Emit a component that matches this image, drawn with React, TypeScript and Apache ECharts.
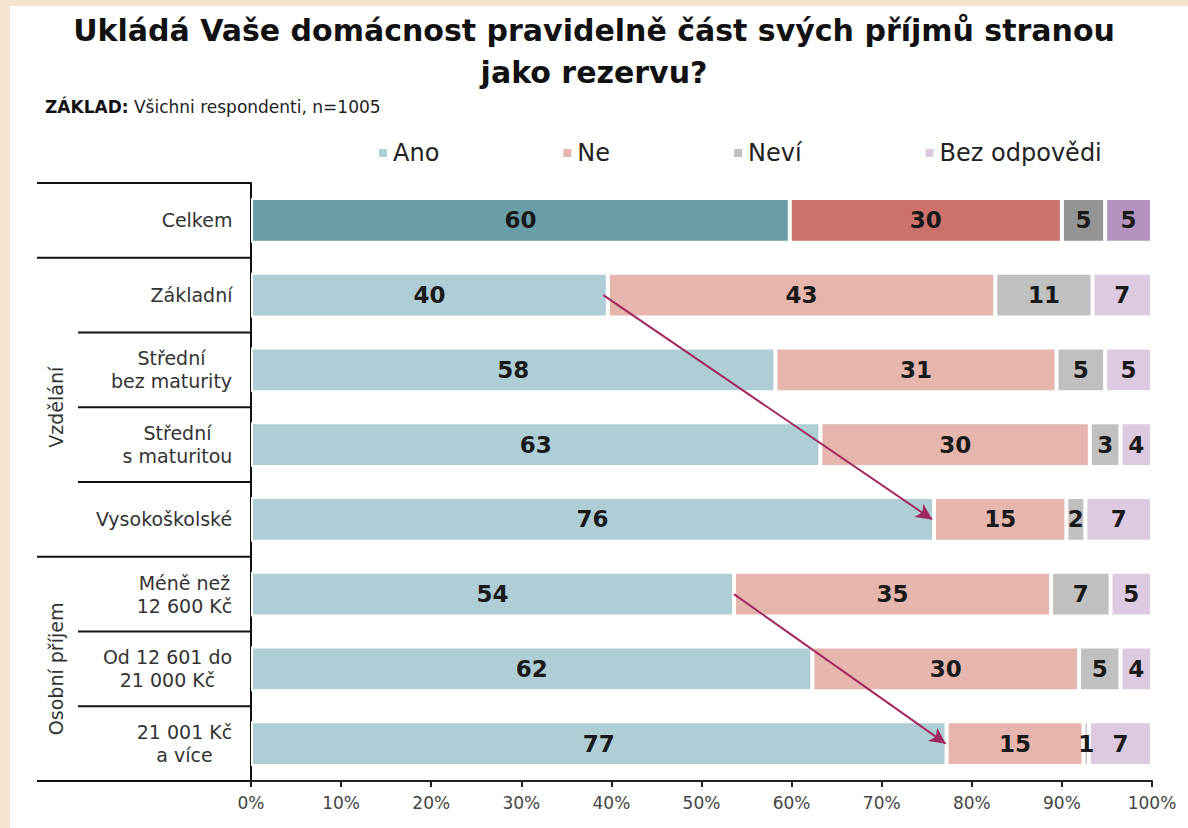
import React, { useEffect, useRef } from 'react';
import * as echarts from 'echarts';

const categories = [
  'Celkem',
  'Základní',
  'Střední\nbez maturity',
  'Střední\ns maturitou',
  'Vysokoškolské',
  'Méně než\n12 600 Kč',
  'Od 12 601 do\n21 000 Kč',
  '21 001 Kč\na více',
];
const seriesNames = ['Ano', 'Ne', 'Neví', 'Bez odpovědi'];
const ano = [59.8, 39.6, 58.2, 63.2, 75.8, 53.6, 62.3, 77.2];
const ne = [30.2, 43.0, 31.2, 29.9, 14.7, 35.2, 29.6, 15.2];
const nevi = [4.8, 10.8, 5.4, 3.4, 2.1, 6.6, 4.6, 0.6];
const bez = [5.2, 6.6, 5.2, 3.5, 7.4, 4.6, 3.5, 7.0];
const allValues = [ano, ne, nevi, bez];

const lightColors = ['#aecdd4', '#e6b5ae', '#c0c0c0', '#dccbe0'];
const darkColors = ['#6a9ea9', '#cc716c', '#949494', '#b592bd'];

const groups = [
  { name: 'Vzdělání', from: 1, to: 4 },
  { name: 'Osobní příjem', from: 5, to: 7 },
];
// arrows: [startValue, startCategoryIndex, endValue, endCategoryIndex]
const arrows = [
  [39.1, 1, 75.6, 4],
  [53.6, 5, 77.1, 7],
];

const titleText = 'Ukládá Vaše domácnost pravidelně část svých příjmů stranou\njako rezervu?';
const baseBold = 'ZÁKLAD:';
const baseText = ' Všichni respondenti, n=1005';

const FONT = '"DejaVu Sans", Verdana, sans-serif';
const LABEL_SIZE = 19;

export default function App() {
  const ref = useRef<HTMLDivElement>(null);

  useEffect(() => {
    if (!ref.current) return;
    const chart = echarts.init(ref.current, null, { renderer: 'svg' });

    // measure label lines to center multi-line labels
    const canvas = document.createElement('canvas');
    const ctx = canvas.getContext('2d')!;
    ctx.font = `${LABEL_SIZE}px ${FONT}`;
    const rich: any = {};
    categories.forEach((c, i) => {
      const w = Math.max(...c.split('\n').map((l) => ctx.measureText(l).width));
      rich['c' + i] = {
        width: Math.ceil(w) + 1,
        align: 'center',
        fontSize: LABEL_SIZE,
        fontFamily: FONT,
        color: '#333',
        lineHeight: 23,
      };
    });

    const series: any[] = allValues.map((vals, s) => ({
      name: seriesNames[s],
      type: 'bar',
      stack: 'total',
      barCategoryGap: '40%',
      itemStyle: { color: lightColors[s], borderColor: '#fff', borderWidth: 2 },
      emphasis: { disabled: true },
      label: {
        show: true,
        position: 'inside',
        formatter: (p: any) => String(Math.round(p.value)),
        fontFamily: FONT,
        fontWeight: 'bold',
        fontSize: 23,
        color: '#1a1a1a',
      },
      data: vals.map((v, i) =>
        i === 0 ? { value: v, itemStyle: { color: darkColors[s] } } : v
      ),
    }));

    series[0].markLine = {
      silent: true,
      symbol: ['none', 'arrow'],
      symbolSize: [12, 16],
      label: { show: false },
      emphasis: { disabled: true },
      lineStyle: { color: '#a0285f', width: 2, type: 'solid' },
      data: arrows.map((a) => [
        { coord: [a[0], categories[a[1]]] },
        { coord: [a[2], categories[a[3]]] },
      ]),
    };

    chart.setOption({
      animation: false,
      backgroundColor: '#f4e5d2',
      title: {
        text: titleText,
        left: 'center',
        top: 4,
        textStyle: {
          fontFamily: FONT,
          fontWeight: 'bold',
          fontSize: 30,
          color: '#111',
          lineHeight: 42,
        },
      },
      legend: {
        data: seriesNames,
        left: 372,
        top: 136,
        icon: 'rect',
        itemWidth: 10,
        itemHeight: 10,
        itemGap: 122,
        textStyle: { fontFamily: FONT, fontSize: 24, color: '#222' },
        selectedMode: false,
      },
      grid: { left: 251, right: 36, top: 183, bottom: 47 },
      xAxis: {
        type: 'value',
        min: 0,
        max: 100,
        interval: 10,
        axisLine: { show: true, lineStyle: { color: '#222', width: 2 } },
        axisTick: { show: true, length: 6, lineStyle: { color: '#222', width: 2 } },
        splitLine: { show: false },
        axisLabel: {
          formatter: '{value}%',
          fontFamily: FONT,
          fontSize: 17,
          color: '#444',
          margin: 13,
        },
      },
      yAxis: {
        type: 'category',
        data: categories,
        inverse: true,
        axisLine: { show: true, lineStyle: { color: '#111', width: 2 } },
        axisTick: { show: false },
        axisLabel: {
          margin: 18,
          formatter: (val: string, idx: number) =>
            val.split('\n').map((l) => `{c${idx}|${l}}`).join('\n'),
          rich,
        },
      },
      series,
    });

    // table lines & group labels computed from the axis
    const yc = (i: number) => chart.convertToPixel({ yAxisIndex: 0 }, categories[i]) as number;
    const step = yc(1) - yc(0);
    const bounds: number[] = [];
    for (let k = 0; k <= categories.length; k++) bounds.push(yc(0) - step / 2 + k * step);
    const axisX = chart.convertToPixel({ xAxisIndex: 0 }, 0) as number;

    const graphics: any[] = [
      {
        type: 'rect',
        z: -10,
        silent: true,
        shape: { x: 10, y: 6, width: 1188, height: 828 },
        style: { fill: '#fff' },
      },
      {
        type: 'text',
        left: 45,
        top: 98,
        style: {
          text: `{b|${baseBold}}{n|${baseText}}`,
          rich: {
            b: { fontFamily: FONT, fontWeight: 'bold', fontSize: 17, fill: '#111' },
            n: { fontFamily: FONT, fontSize: 17, fill: '#222' },
          },
        },
      },
    ];
    bounds.forEach((y, k) => {
      const inside = groups.some((g) => k > g.from && k <= g.to);
      graphics.push({
        type: 'line',
        silent: true,
        shape: { x1: inside ? 78 : 37, y1: y, x2: axisX, y2: y },
        style: { stroke: '#111', lineWidth: 2 },
      });
    });
    groups.forEach((g) => {
      const cy = (bounds[g.from] + bounds[g.to + 1]) / 2;
      graphics.push({
        type: 'text',
        x: 56,
        y: cy,
        rotation: Math.PI / 2,
        style: {
          text: g.name,
          fontFamily: FONT,
          fontSize: LABEL_SIZE,
          fill: '#333',
          align: 'center',
          verticalAlign: 'middle',
        },
      });
    });
    chart.setOption({ graphic: graphics });

    return () => chart.dispose();
  }, []);

  return (
    <div
      ref={ref}
      style={{ position: 'fixed', left: 0, top: 0, width: 1188, height: 828 }}
    />
  );
}
